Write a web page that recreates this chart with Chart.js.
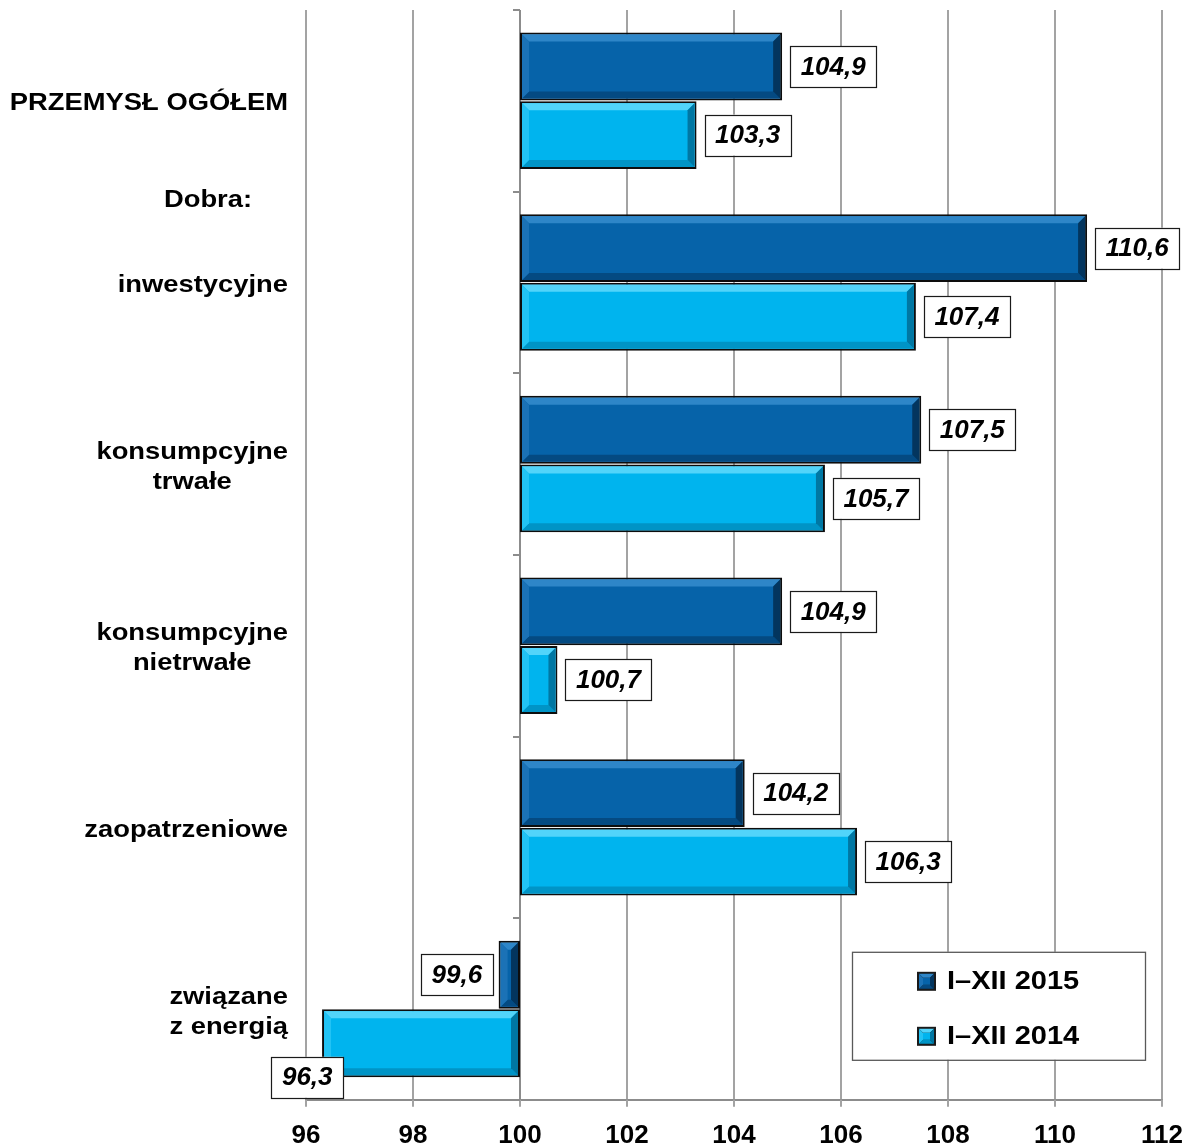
<!DOCTYPE html>
<html>
<head>
<meta charset="utf-8">
<title>Produkcja sprzedana przemysłu</title>
<script src="https://cdn.jsdelivr.net/npm/chart.js@4.4.1/dist/chart.umd.min.js"></script>
<style>
  html, body { margin: 0; padding: 0; background: #fff; }
  #wrap { width: 1188px; height: 1147px; position: relative; }
</style>
</head>
<body>
<div id="wrap"><canvas id="chart"></canvas></div>
<script>
// category labels (one entry per line)
const categories = [
    ['PRZEMYSŁ OGÓŁEM'],
    ['inwestycyjne'],
    ['konsumpcyjne', 'trwałe'],
    ['konsumpcyjne', 'nietrwałe'],
    ['zaopatrzeniowe'],
    ['związane', 'z energią']
];
const groupHeader = 'Dobra:';   // shown above the second category

const seriesNames = ['I\u2013XII 2015', 'I\u2013XII 2014'];
const values2015 = [104.9, 110.6, 107.5, 104.9, 104.2, 99.6];
const values2014 = [103.3, 107.4, 105.7, 100.7, 106.3, 96.3];
const baseValue = 100;

const axisMin = 96;
const axisMax = 112;
const axisStep = 2;

const FONT = 'Arial, "Liberation Sans", sans-serif';
const GRID = '#a3a3a3';

const palette = [
    { fill: '#0663a9', top: '#2e86c8', left: '#1b72b6', bottom: '#044a82', right: '#03355e' },
    { fill: '#00b4ee', top: '#52d4fa', left: '#22c3f4', bottom: '#0094c6', right: '#0077a3' }
];

function fmt(v) {
    return v.toFixed(1).replace('.', ',');
}

// text with a slight horizontal stretch, like the original picture
function stretchText(ctx, text, x, y, align, sx) {
    const w = ctx.measureText(text).width * sx;
    let left = x;
    if (align === 'center') left = x - w / 2;
    else if (align === 'right') left = x - w;
    ctx.save();
    ctx.translate(left, y);
    ctx.scale(sx, 1);
    ctx.textAlign = 'left';
    ctx.fillText(text, 0, 0);
    ctx.restore();
    return w;
}

function bevelRect(ctx, l, t, r, b, bw, c) {
    const quads = [
        [c.top,    [[l, t], [r, t], [r - bw, t + bw], [l + bw, t + bw]]],
        [c.bottom, [[l, b], [r, b], [r - bw, b - bw], [l + bw, b - bw]]],
        [c.left,   [[l, t], [l + bw, t + bw], [l + bw, b - bw], [l, b]]],
        [c.right,  [[r, t], [r - bw, t + bw], [r - bw, b - bw], [r, b]]]
    ];
    quads.forEach(function(q) {
        ctx.fillStyle = q[0];
        ctx.beginPath();
        q[1].forEach(function(p, i) { i ? ctx.lineTo(p[0], p[1]) : ctx.moveTo(p[0], p[1]); });
        ctx.closePath();
        ctx.fill();
    });
}

const decorations = {
    id: 'decorations',
    beforeDatasetsDraw(chart) {
        const ctx = chart.ctx;
        const area = chart.chartArea;
        const xs = chart.scales.x, ys = chart.scales.y;
        ctx.save();
        // short tick marks under the value axis
        ctx.strokeStyle = GRID;
        ctx.lineWidth = 2;
        ctx.beginPath();
        xs.ticks.forEach(function(t) {
            const x = Math.round(xs.getPixelForValue(t.value));
            ctx.moveTo(x, area.bottom);
            ctx.lineTo(x, area.bottom + 7);
        });
        ctx.stroke();

        const x0 = Math.round(xs.getPixelForValue(baseValue));
        ctx.strokeStyle = '#8c8c8c';
        ctx.beginPath();
        ctx.moveTo(x0, area.top);
        ctx.lineTo(x0, area.bottom);
        // category boundary tick marks on the axis at 100
        for (let i = 0; i <= categories.length; i++) {
            let y;
            if (i === 0) y = area.top;
            else if (i === categories.length) y = area.bottom;
            else y = (ys.getPixelForValue(i - 1) + ys.getPixelForValue(i)) / 2;
            ctx.moveTo(x0 - 7, Math.round(y));
            ctx.lineTo(x0, Math.round(y));
        }
        ctx.stroke();
        ctx.restore();
    },
    afterDatasetsDraw(chart) {
        const ctx = chart.ctx;
        const area = chart.chartArea;
        const xs = chart.scales.x, ys = chart.scales.y;

        // bevels on the bars
        chart.data.datasets.forEach(function(ds, d) {
            chart.getDatasetMeta(d).data.forEach(function(el) {
                const p = el.getProps(['x', 'y', 'base', 'height'], true);
                const l = Math.min(p.x, p.base) + 2, r = Math.max(p.x, p.base) - 2;
                const t = p.y - p.height / 2 + 2, b = p.y + p.height / 2 - 2;
                const bw = Math.min(7, (r - l) / 2, (b - t) / 2);
                bevelRect(ctx, l, t, r, b, bw, palette[d]);
            });
        });

        // value boxes
        ctx.save();
        ctx.font = 'italic bold 26px ' + FONT;
        ctx.textBaseline = 'middle';
        chart.data.datasets.forEach(function(ds, d) {
            const vals = d === 0 ? values2015 : values2014;
            chart.getDatasetMeta(d).data.forEach(function(el, i) {
                const p = el.getProps(['y', 'height'], true);
                const endX = xs.getPixelForValue(vals[i]);
                const txt = fmt(vals[i]);
                const w = ctx.measureText(txt).width + 21;
                const h = 41;
                let bx, by = p.y - h / 2;
                if (vals[i] >= baseValue) {
                    bx = endX + 8;
                } else {
                    bx = endX - 6 - w;
                    if (bx < area.left - 20) {
                        // not enough room: tuck under the bar end
                        bx = endX + 21 - w;
                        by = area.bottom - 2 - h;
                    }
                }
                ctx.fillStyle = '#fff';
                ctx.fillRect(bx, by, w, h);
                ctx.strokeStyle = '#1a1a1a';
                ctx.lineWidth = 1.2;
                ctx.strokeRect(Math.round(bx) + 0.5, Math.round(by) + 0.5, Math.round(w), h);
                ctx.fillStyle = '#000';
                ctx.textAlign = 'center';
                ctx.fillText(txt, bx + w / 2, by + h / 2 + 1);
            });
        });
        ctx.restore();

        // category labels
        ctx.save();
        ctx.font = 'bold 24px ' + FONT;
        ctx.fillStyle = '#000';
        ctx.textBaseline = 'middle';
        const sx = 1.14;
        const right = area.left - 18;
        const lh = 30;
        categories.forEach(function(lines, i) {
            const cy = ys.getPixelForValue(i) + 3;
            const maxW = Math.max.apply(null, lines.map(function(s) { return ctx.measureText(s).width * sx; }));
            const cx = right - maxW / 2;
            lines.forEach(function(s, k) {
                const y = cy + (k - (lines.length - 1) / 2) * lh;
                stretchText(ctx, s, cx, y, 'center', sx);
            });
        });
        const hy = (ys.getPixelForValue(0) + ys.getPixelForValue(1)) / 2 + 9;
        stretchText(ctx, groupHeader, area.left - 98, hy, 'center', sx);
        ctx.restore();

        // legend box
        ctx.save();
        const lx = area.right - 310, ly = area.bottom - 148;
        ctx.fillStyle = '#fff';
        ctx.fillRect(lx, ly, 293, 108);
        ctx.strokeStyle = '#595959';
        ctx.lineWidth = 1.3;
        ctx.strokeRect(lx + 0.5, ly + 0.5, 293, 108);
        ctx.font = 'bold 25px ' + FONT;
        ctx.textBaseline = 'middle';
        seriesNames.forEach(function(name, d) {
            const ry = ly + 29 + d * 55;
            const mx = lx + 65;
            ctx.fillStyle = '#1a1a1a';
            ctx.fillRect(mx, ry - 9, 19, 19);
            bevelRect(ctx, mx + 2, ry - 7, mx + 17, ry + 8, 4, palette[d]);
            ctx.fillStyle = palette[d].fill;
            ctx.fillRect(mx + 6, ry - 3, 7, 7);
            ctx.fillStyle = '#000';
            stretchText(ctx, name, mx + 30, ry + 1, 'left', 1.16);
        });
        ctx.restore();
    }
};

const ctx = document.getElementById('chart').getContext('2d');
const chart = new Chart(ctx, {
    type: 'bar',
    data: {
        labels: categories.map(function(l) { return l.join(' '); }),
        datasets: [{
            label: seriesNames[0],
            data: values2015.map(function(v) { return [baseValue, v]; }),
            backgroundColor: palette[0].fill,
            borderColor: '#0d0d0d',
            borderWidth: 2,
            borderSkipped: false
        }, {
            label: seriesNames[1],
            data: values2014.map(function(v) { return [baseValue, v]; }),
            backgroundColor: palette[1].fill,
            borderColor: '#0d0d0d',
            borderWidth: 2,
            borderSkipped: false
        }]
    },
    options: {
        indexAxis: 'y',
        responsive: true,
        maintainAspectRatio: false,
        animation: false,
        categoryPercentage: 0.755,
        barPercentage: 0.99,
        layout: {
            padding: { left: 306, right: 26, top: 10, bottom: -4 }
        },
        plugins: {
            legend: { display: false },
            tooltip: { enabled: false }
        },
        scales: {
            x: {
                min: axisMin,
                max: axisMax,
                ticks: {
                    stepSize: axisStep,
                    color: '#000',
                    padding: 0,
                    font: { family: FONT, size: 26, weight: 'bold' }
                },
                grid: {
                    color: GRID,
                    lineWidth: 2,
                    tickLength: 20,
                    tickColor: 'rgba(0,0,0,0)'
                },
                border: { color: '#8c8c8c', width: 2 }
            },
            y: {
                display: false
            }
        }
    },
    plugins: [decorations]
});
</script>
</body>
</html>
